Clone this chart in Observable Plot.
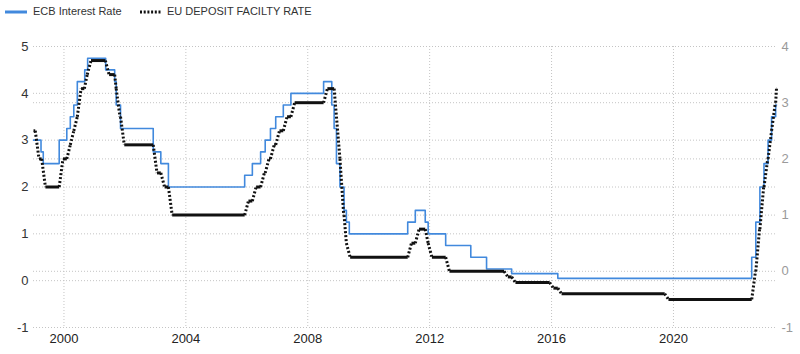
<!DOCTYPE html>
<html><head><meta charset="utf-8">
<script src="https://cdn.jsdelivr.net/npm/d3@7"></script>
<script src="https://cdn.jsdelivr.net/npm/@observablehq/plot@0.6"></script>
<style>
body{margin:0;background:#fff;font-family:"Liberation Sans",Arial,sans-serif;}
#legend{position:relative;height:26px;width:800px;font-size:11px;color:#333;}
#legend svg{position:absolute;left:0;top:0;}
#legend span{position:absolute;top:5px;white-space:nowrap;}
#chart svg{display:block;}
</style></head><body>
<div id="legend">
  <svg width="800" height="26">
    <line x1="5" x2="27" y1="12" y2="12" stroke="#4189dd" stroke-width="3"/>
    <line x1="140" x2="161" y1="12" y2="12" stroke="#111" stroke-width="3" stroke-dasharray="2,1.7"/>
  </svg>
  <span style="left:33px">ECB Interest Rate</span>
  <span style="left:167px">EU DEPOSIT FACILTY RATE</span>
</div>
<div id="chart"></div>
<script>
// ECB main interest rate (left axis), change dates and new values
const ecbDates = ["1999-01-01","1999-04-01","1999-04-28","1999-11-05","2000-02-04","2000-03-17","2000-04-28","2000-06-09","2000-09-06","2000-10-11","2001-05-15","2001-08-31","2001-09-18","2001-11-09","2002-12-06","2003-03-07","2003-06-06","2005-12-06","2006-03-08","2006-06-15","2006-08-09","2006-10-11","2006-12-13","2007-03-14","2007-06-13","2008-07-09","2008-10-15","2008-11-12","2008-12-10","2009-01-21","2009-03-11","2009-04-08","2009-05-13","2011-04-13","2011-07-13","2011-11-09","2011-12-14","2012-07-11","2013-05-08","2013-11-13","2014-09-10","2016-03-16","2022-07-27","2022-09-14","2022-11-02","2022-12-21","2023-02-08","2023-03-22","2023-05-10","2023-05-20"];
const ecbRates = [3.0,2.75,2.5,3.0,3.25,3.5,3.75,4.25,4.5,4.75,4.5,4.25,3.75,3.25,2.75,2.5,2.0,2.25,2.5,2.75,3.0,3.25,3.5,3.75,4.0,4.25,3.75,3.25,2.5,2.0,1.5,1.25,1.0,1.25,1.5,1.25,1.0,0.75,0.5,0.25,0.15,0.05,0.5,1.25,2.0,2.5,3.0,3.5,3.75,3.75];

// EU deposit facility rate (right axis), change dates and new values
const depoDates = ["1999-01-01","1999-01-22","1999-04-09","1999-11-05","2000-02-04","2000-03-17","2000-04-28","2000-06-09","2000-09-01","2000-10-06","2001-05-11","2001-08-31","2001-09-18","2001-11-09","2002-12-06","2003-03-07","2003-06-06","2005-12-06","2006-03-08","2006-06-15","2006-08-09","2006-10-11","2006-12-13","2007-03-14","2007-06-13","2008-07-09","2008-11-12","2008-12-10","2009-01-21","2009-03-11","2009-04-08","2011-04-13","2011-07-13","2011-11-09","2011-12-14","2012-07-11","2014-06-11","2014-09-10","2015-12-09","2016-03-16","2019-09-18","2022-07-27","2022-09-14","2022-11-02","2022-12-21","2023-02-08","2023-03-22","2023-05-10","2023-05-20"];
const depoRates = [2.5,2.0,1.5,2.0,2.25,2.5,2.75,3.25,3.5,3.75,3.5,3.25,2.75,2.25,1.75,1.5,1.0,1.25,1.5,1.75,2.0,2.25,2.5,2.75,3.0,3.25,2.75,2.0,1.0,0.5,0.25,0.5,0.75,0.5,0.25,0.0,-0.1,-0.2,-0.3,-0.4,-0.5,0.0,0.75,1.5,2.0,2.5,3.0,3.25,3.25];

const leftTicks = [-1,0,1,2,3,4,5];
const rightTicks = [-1,0,1,2,3,4];
const yearTicks = [2000,2004,2008,2012,2016,2020];
const xStart = "1999-01-01", xEnd = "2023-05-20";

// right axis [-1,4] shares the vertical extent of left axis [-1,5]
const toLeft = v => -1 + (v + 1) * 6 / 5;
const fromLeft = v => Math.round((v + 1) * 5 / 6 - 1);

const ecb = ecbDates.map((d, i) => ({date: new Date(d), rate: ecbRates[i]}));

// deposit rate: flat stretches drawn solid, each change drawn as a dotted ramp
const DAY = 864e5, RAMP = 45 * DAY;
const t = depoDates.map(d => new Date(d).getTime());
const flats = [], ramps = [];
let flatStart = t[0];
for (let i = 1; i < t.length; i++) {
  flats.push({x1: new Date(flatStart), x2: new Date(t[i]), y: toLeft(depoRates[i - 1])});
  const end = i + 1 < t.length ? Math.min(t[i] + RAMP, t[i + 1]) : t[i];
  ramps.push({x1: new Date(t[i]), y1: toLeft(depoRates[i - 1]), x2: new Date(end), y2: toLeft(depoRates[i])});
  flatStart = end;
}

const gridStyle = {stroke: "#c4c4c4", strokeOpacity: 1, strokeWidth: 1, strokeDasharray: "1,2"};

const chart = Plot.plot({
  width: 800,
  height: 328,
  marginLeft: 33,
  marginRight: 24,
  marginTop: 20,
  marginBottom: 27,
  x: {type: "utc", domain: [new Date(xStart), new Date(xEnd)]},
  y: {domain: [-1, 5]},
  style: {fontFamily: "'Liberation Sans', Arial, sans-serif", background: "white", overflow: "visible"},
  marks: [
    Plot.gridY(leftTicks, gridStyle),
    Plot.gridY(rightTicks.map(toLeft), gridStyle),
    Plot.gridX(yearTicks.map(y => new Date(Date.UTC(y, 0, 1))), gridStyle),
    Plot.axisY(leftTicks, {anchor: "left", tickSize: 0, tickPadding: 5, fontSize: 13, color: "#333", label: null, tickFormat: d => String(d)}),
    Plot.axisY(rightTicks.map(toLeft), {anchor: "right", tickSize: 0, tickPadding: 5, fontSize: 13, color: "#9a9a9a", label: null, tickFormat: d => String(fromLeft(d))}),
    Plot.axisX(yearTicks.map(y => new Date(Date.UTC(y, 0, 1))), {anchor: "bottom", tickSize: 0, tickPadding: 6, fontSize: 13, color: "#222", label: null, tickFormat: d => String(d.getUTCFullYear())}),
    Plot.line(ecb, {x: "date", y: "rate", curve: "step-after", stroke: "#4189dd", strokeWidth: 1.6}),
    Plot.link(flats.filter(f => f.x2 > f.x1), {x1: "x1", x2: "x2", y1: "y", y2: "y", stroke: "#111", strokeWidth: 3}),
    Plot.link(ramps, {x1: "x1", y1: "y1", x2: "x2", y2: "y2", stroke: "#111", strokeWidth: 3, strokeDasharray: "2,2"})
  ]
});
document.getElementById("chart").appendChild(chart);
</script>
</body></html>
